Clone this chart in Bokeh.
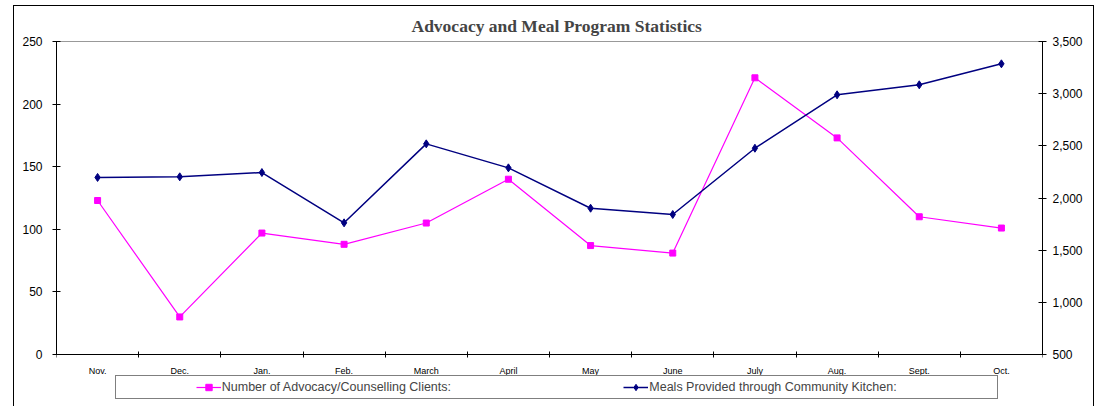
from bokeh.plotting import figure
from bokeh.models import (Range1d, LinearAxis, FixedTicker, NumeralTickFormatter,
                          Legend, LegendItem)
from bokeh.embed import file_html
from bokeh.resources import INLINE

months = ["Nov.", "Dec.", "Jan.", "Feb.", "March", "April", "May", "June",
          "July", "Aug.", "Sept.", "Oct."]
clients = [123, 30, 97, 88, 105, 140, 87, 81, 221, 173, 110, 101]
meals = [2197, 2203, 2244, 1762, 2519, 2289, 1902, 1842, 2477, 2989, 3085, 3286]
left_ticks = [0, 50, 100, 150, 200, 250]
right_ticks = [500, 1000, 1500, 2000, 2500, 3000, 3500]
title_text = "Advocacy and Meal Program Statistics"
label_clients = "Number of Advocacy/Counselling Clients:"
label_meals = "Meals Provided through Community Kitchen:"

xs = list(range(len(months)))

# layout geometry (pixels): plotting band 313 px tall, frame extends 48 px below zero
band_px = 313.0
below_px = 48.0
l0, l1_ = left_ticks[0], left_ticks[-1]
r0, r1 = right_ticks[0], right_ticks[-1]
left_start = l0 - below_px * (l1_ - l0) / band_px
right_start = r0 - below_px * (r1 - r0) / band_px

p = figure(width=1081, height=401, output_backend="svg", toolbar_location=None,
           x_range=Range1d(-0.5, len(months) - 0.5),
           y_range=Range1d(left_start, l1_),
           min_border_left=42, min_border_right=53, min_border_top=35,
           min_border_bottom=5, y_axis_location=None, x_axis_location=None)
p.styles = {"border-top": "1px solid black", "border-left": "1px solid black",
            "border-right": "1px solid black", "margin-left": "13px",
            "margin-top": "5px"}
p.extra_y_ranges = {"meals": Range1d(right_start, r1)}
p.background_fill_color = "white"
p.border_fill_color = None
p.outline_line_color = None
p.xgrid.visible = False
p.ygrid.visible = False

# title
p.title.text = title_text
p.title.text_font = "Liberation Serif"
p.title.text_font_style = "bold"
p.title.text_font_size = "17.5px"
p.title.align = "left"
p.title.offset = 355
p.title.standoff = 12

font = "Liberation Sans"

# top border line of the plotting band
top = LinearAxis(ticker=FixedTicker(ticks=[]))
top.axis_line_color = "#999999"
top.major_tick_line_color = None
top.minor_tick_line_color = None
top.major_label_text_font_size = "0px"
p.add_layout(top, "above")

# bottom axis pinned at zero
xaxis = LinearAxis(ticker=FixedTicker(ticks=xs,
                                      minor_ticks=[i - 0.5 for i in range(len(months) + 1)]),
                   major_label_overrides={i: m for i, m in enumerate(months)},
                   fixed_location=0)
xaxis.major_tick_line_color = None
xaxis.major_tick_in = 0
xaxis.major_tick_out = 0
xaxis.minor_tick_in = 3
xaxis.minor_tick_out = 3
xaxis.minor_tick_line_color = "black"
xaxis.axis_line_color = "black"
xaxis.major_label_standoff = 8
xaxis.major_label_text_font = font
xaxis.major_label_text_font_size = "9px"
xaxis.major_label_text_color = "black"
p.add_layout(xaxis, "below")

# left axis
yaxis = LinearAxis(ticker=FixedTicker(ticks=left_ticks), bounds=(l0, l1_))
yaxis.major_tick_in = 4
yaxis.major_tick_out = 4
yaxis.minor_tick_line_color = None
yaxis.axis_line_color = "black"
yaxis.major_tick_line_color = "black"
yaxis.major_label_standoff = 10
yaxis.major_label_text_font = font
yaxis.major_label_text_font_size = "12px"
yaxis.major_label_text_color = "black"
p.add_layout(yaxis, "left")

# right axis
raxis = LinearAxis(y_range_name="meals", ticker=FixedTicker(ticks=right_ticks),
                   formatter=NumeralTickFormatter(format="0,0"), bounds=(r0, r1))
raxis.major_tick_in = 4
raxis.major_tick_out = 4
raxis.minor_tick_line_color = None
raxis.axis_line_color = "black"
raxis.major_tick_line_color = "black"
raxis.major_label_standoff = 6
raxis.major_label_text_font = font
raxis.major_label_text_font_size = "12px"
raxis.major_label_text_color = "black"
p.add_layout(raxis, "right")

pink = "#FF00FF"
navy = "#000080"

l1 = p.line(xs, clients, line_color=pink, line_width=1.2)
s1 = p.scatter(xs, clients, marker="square", size=6, fill_color=pink, line_color=pink)
l2 = p.line(xs, meals, line_color=navy, line_width=1.5, y_range_name="meals")
s2 = p.scatter(xs, meals, marker="diamond", size=8, fill_color=navy, line_color=navy,
               y_range_name="meals")

dummy = p.scatter([], [], alpha=0)

nb = "\u00a0"
legend = Legend(items=[LegendItem(label=nb * 10, renderers=[dummy]),
                       LegendItem(label=label_clients + nb * 45, renderers=[l1, s1]),
                       LegendItem(label=label_meals, renderers=[l2, s2]),
                       LegendItem(label=nb * 16, renderers=[dummy])],
                location=(59, 3), orientation="horizontal", padding=3, margin=0,
                spacing=16, glyph_width=25, glyph_height=16, label_height=16,
                label_width=0, label_standoff=1,
                label_text_font=font, label_text_font_size="12.5px",
                border_line_color="black", border_line_width=1,
                background_fill_color="white", background_fill_alpha=1)
p.add_layout(legend, "center")

open("out.html", "w").write(file_html(p, INLINE))
